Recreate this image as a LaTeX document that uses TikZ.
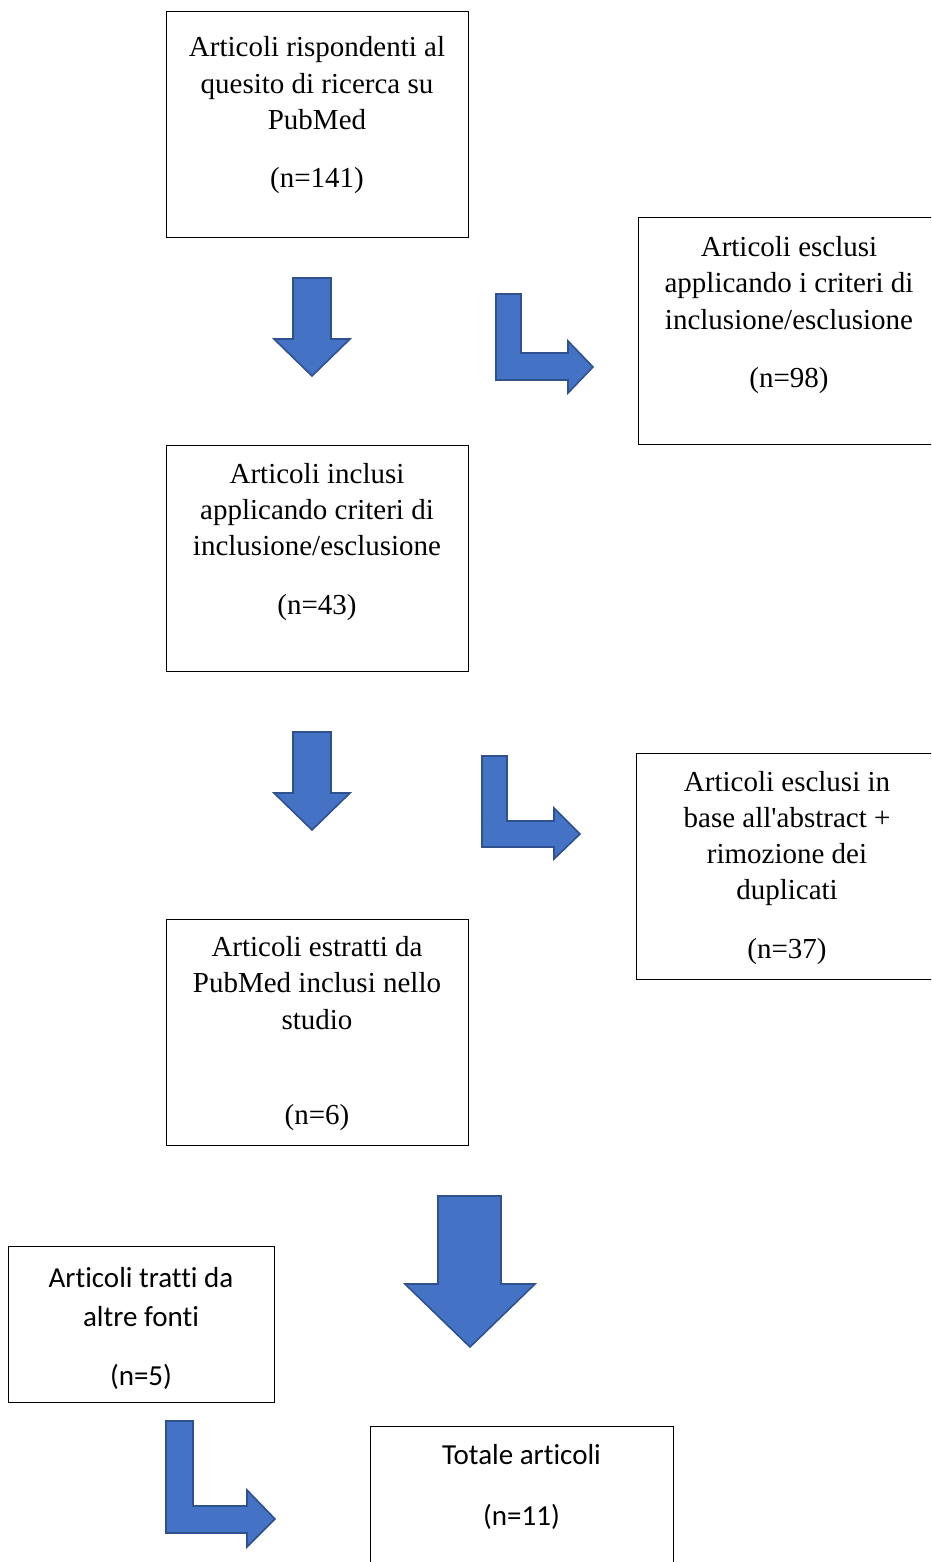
\documentclass[tikz,border=0pt]{standalone}
\usepackage{fontspec}
\setmainfont[Ligatures=TeXOff]{Liberation Serif}
\newfontfamily\calfont[Ligatures={NoCommon}]{Carlito}
\begin{document}
\begin{tikzpicture}[x=1pt,y=-1pt,
  boxnode/.style={draw=black,line width=1pt,inner sep=0pt,rectangle},
  txt/.style={anchor=base,inner sep=0pt,font=\fontsize{29}{35}\selectfont},
  ctxt/.style={anchor=base,inner sep=0pt,font=\calfont\fontsize{29}{35}\selectfont},
  blockarrow/.style={fill=arrowfill,draw=arrowdraw,line width=1.6pt,line join=miter}]
\definecolor{arrowfill}{HTML}{4472C4}
\definecolor{arrowdraw}{HTML}{2F528F}
\useasboundingbox (0,0) rectangle (931,1562);
\clip (0,0) rectangle (931,1562);
% boxes
\node[boxnode,minimum width=302pt,minimum height=226pt] (b1) at (317,125) {};
\node[boxnode,minimum width=302pt,minimum height=226pt] (b2) at (789,331) {};
\node[boxnode,minimum width=302pt,minimum height=226pt] (b3) at (317,558) {};
\node[boxnode,minimum width=302pt,minimum height=226pt] (b4) at (787,866) {};
\node[boxnode,minimum width=302pt,minimum height=226pt] (b5) at (317,1032) {};
\node[boxnode,minimum width=266pt,minimum height=156pt] (b6) at (141,1324) {};
\node[boxnode,minimum width=303pt,minimum height=150pt] (b7) at (521.5,1501) {};
% texts box 1
\node[txt] (t1a) at (317,57) {Articoli rispondenti al};
\node[txt] (t1b) at (317,94) {quesito di ricerca su};
\node[txt] (t1c) at (317,130) {PubMed};
\node[txt] (t1n) at (317,188) {(n=141)};
% box 2
\node[txt] (t2a) at (789,256) {Articoli esclusi};
\node[txt] (t2b) at (789,292) {applicando i criteri di};
\node[txt] (t2c) at (789,329) {inclusione/esclusione};
\node[txt] (t2n) at (789,387) {(n=98)};
% box 3
\node[txt] (t3a) at (317,483) {Articoli inclusi};
\node[txt] (t3b) at (317,519) {applicando criteri di};
\node[txt] (t3c) at (317,555) {inclusione/esclusione};
\node[txt] (t3n) at (317,614) {(n=43)};
% box 4
\node[txt] (t4a) at (787,791) {Articoli esclusi in};
\node[txt] (t4b) at (787,827) {base all'abstract +};
\node[txt] (t4c) at (787,863) {rimozione dei};
\node[txt] (t4d) at (787,899) {duplicati};
\node[txt] (t4n) at (787,958) {(n=37)};
% box 5
\node[txt] (t5a) at (317,956) {Articoli estratti da};
\node[txt] (t5b) at (317,992) {PubMed inclusi nello};
\node[txt] (t5c) at (317,1029) {studio};
\node[txt] (t5n) at (317,1124) {(n=6)};
% box 6
\node[ctxt] (t6a) at (141,1287) {Articoli tratti da};
\node[ctxt] (t6b) at (141,1326) {altre fonti};
\node[ctxt] (t6n) at (141,1385) {(n=5)};
% box 7
\node[ctxt] (t7a) at (521.5,1464) {Totale articoli};
\node[ctxt] (t7n) at (521.5,1525) {(n=11)};
% down arrows
\draw[blockarrow] (293,278) -- (331,278) -- (331,339) -- (350,339) -- (312,376) -- (274,339) -- (293,339) -- cycle;
\draw[blockarrow] (293,732) -- (331,732) -- (331,793) -- (350,793) -- (312,830) -- (274,793) -- (293,793) -- cycle;
\draw[blockarrow] (438,1196) -- (501,1196) -- (501,1284) -- (535,1284) -- (470,1347) -- (405,1284) -- (438,1284) -- cycle;
% L arrows
\draw[blockarrow] (496,294) -- (521,294) -- (521,353) -- (568,353) -- (568,341) -- (593,367) -- (568,393) -- (568,380) -- (496,380) -- cycle;
\draw[blockarrow] (482,756) -- (507,756) -- (507,821) -- (554,821) -- (554,808) -- (580,834) -- (554,859) -- (554,847) -- (482,847) -- cycle;
\draw[blockarrow] (166,1421) -- (193,1421) -- (193,1506) -- (247,1506) -- (247,1490) -- (275,1519) -- (247,1547) -- (247,1533) -- (166,1533) -- cycle;
\end{tikzpicture}
\end{document}
